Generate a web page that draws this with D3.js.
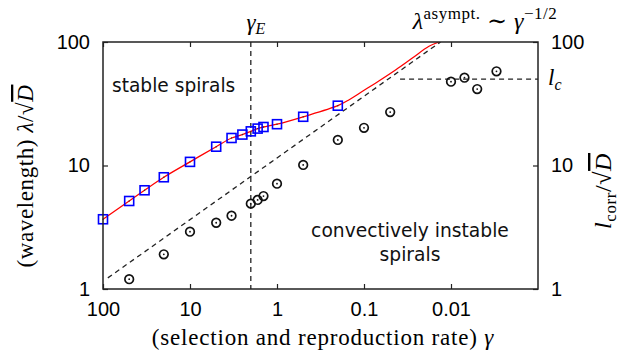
<!DOCTYPE html>
<html>
<head>
<meta charset="utf-8">
<script src="https://cdn.jsdelivr.net/npm/d3@7"></script>
<style>
  body { margin: 0; background: #fff; }
  .tick text { font-family: "Liberation Sans", Arial, sans-serif; font-size: 20px; fill: #000; }
  .serif { font-family: "Liberation Serif", "DejaVu Serif", serif; fill: #000; }
  .sans { font-family: "DejaVu Sans", sans-serif; fill: #111; }
</style>
</head>
<body>
<svg id="chart" width="628" height="356"></svg>
<script>
// blue squares: wavelength of stable spirals
const sqGamma = [100, 50, 33.3, 20, 10, 5, 3.33, 2.5, 2, 1.67, 1.43, 1, 0.5, 0.2];
const sqLambda = [3.67, 5.16, 6.3, 8.03, 10.7, 14.2, 16.7, 17.8, 18.9, 19.9, 20.5, 21.6, 24.8, 30.5];

// red fit curve
const fitGamma = [100, 50, 33.3, 20, 10, 5, 3.33, 2.5, 2, 1.67, 1.43, 1, 0.5, 0.2, 0.148, 0.104, 0.0669, 0.043, 0.0278, 0.0179, 0.0137];
const fitLambda = [3.67, 5.16, 6.3, 8.03, 10.7, 14.2, 16.7, 17.8, 18.9, 19.9, 20.5, 21.6, 24.8, 30.5, 34.1, 39.9, 48.6, 59.7, 74.2, 92.3, 100];

// black circles: correlation length
const cGamma = [50, 20, 10, 5, 3.33, 2, 1.67, 1.43, 1, 0.5, 0.2, 0.1, 0.05, 0.01, 0.007, 0.005, 0.003];
const cLambda = [1.2, 1.91, 2.91, 3.44, 3.92, 4.91, 5.26, 5.66, 7.12, 10.1, 16.1, 20.2, 27.1, 47.7, 51.4, 41.6, 57.9];

// asymptote lambda ~ gamma^-1/2 and l_c plateau
const asymGamma = [88, 0.0132];
const asymLambda = [1.23, 100];
const lcGamma = [0.0385, 0.001];
const lcLambda = [50, 50];
const gammaE = 2;

const xTicks = [100, 10, 1, 0.1, 0.01];
const xTickLabels = ["100", "10", "1", "0.1", "0.01"];
const yTicks = [1, 10, 100];
const yTickLabels = ["1", "10", "100"];

const svg = d3.select("#chart");
const mLeft = 103, mRight = 538, mTop = 42, mBottom = 289;

const x = d3.scaleLog().domain([100, 0.001]).range([mLeft, mRight]);
const y = d3.scaleLog().domain([1, 100]).range([mBottom, mTop]);

svg.append("clipPath").attr("id", "clip")
  .append("rect").attr("x", mLeft).attr("y", mTop)
  .attr("width", mRight - mLeft).attr("height", mBottom - mTop);

const plot = svg.append("g").attr("clip-path", "url(#clip)");

// dashed guides
const dash = "5,4";
plot.append("line")
  .attr("x1", x(gammaE)).attr("x2", x(gammaE))
  .attr("y1", mTop).attr("y2", mBottom)
  .attr("stroke", "#222").attr("stroke-width", 1.3).attr("stroke-dasharray", dash);

const line = d3.line().x(d => x(d[0])).y(d => y(d[1]));

plot.append("path")
  .datum(d3.zip(asymGamma, asymLambda))
  .attr("d", line)
  .attr("fill", "none").attr("stroke", "#222").attr("stroke-width", 1.3).attr("stroke-dasharray", dash);

plot.append("path")
  .datum(d3.zip(lcGamma, lcLambda))
  .attr("d", line)
  .attr("fill", "none").attr("stroke", "#222").attr("stroke-width", 1.3).attr("stroke-dasharray", dash);

// red fit
plot.append("path")
  .datum(d3.zip(fitGamma, fitLambda))
  .attr("d", d3.line().x(d => x(d[0])).y(d => y(d[1])).curve(d3.curveCatmullRom.alpha(0.5)))
  .attr("fill", "none").attr("stroke", "#ff0000").attr("stroke-width", 1.3);

// circles
const circ = svg.append("g").selectAll("g")
  .data(d3.zip(cGamma, cLambda))
  .enter().append("g")
  .attr("transform", d => "translate(" + x(d[0]) + "," + y(d[1]) + ")");
circ.append("circle").attr("r", 4.3).attr("fill", "none").attr("stroke", "#111").attr("stroke-width", 1.7);
circ.append("circle").attr("r", 0.9).attr("fill", "#111");

// squares
const sq = svg.append("g").selectAll("g")
  .data(d3.zip(sqGamma, sqLambda))
  .enter().append("g")
  .attr("transform", d => "translate(" + x(d[0]) + "," + y(d[1]) + ")");
sq.append("rect").attr("x", -4.5).attr("y", -4.5).attr("width", 9).attr("height", 9)
  .attr("fill", "none").attr("stroke", "#0000ff").attr("stroke-width", 1.6);
sq.append("circle").attr("r", 0.7).attr("fill", "#333");

// axes
function styleAxis(g) {
  g.select(".domain").remove();
  g.selectAll(".tick line").attr("stroke", "#222").attr("stroke-width", 1.2);
}
svg.append("g").attr("transform", "translate(0," + mBottom + ")")
  .call(d3.axisBottom(x).tickValues(xTicks).tickSize(-5).tickPadding(13)
    .tickFormat((d, i) => xTickLabels[i]))
  .call(styleAxis);
svg.append("g").attr("transform", "translate(0," + mTop + ")")
  .call(d3.axisTop(x).tickValues(xTicks).tickSize(-5).tickFormat(""))
  .call(styleAxis);
svg.append("g").attr("transform", "translate(" + mLeft + ",0)")
  .call(d3.axisLeft(y).tickValues(yTicks).tickSize(-5).tickPadding(13)
    .tickFormat((d, i) => yTickLabels[i]))
  .call(styleAxis);
svg.append("g").attr("transform", "translate(" + mRight + ",0)")
  .call(d3.axisRight(y).tickValues(yTicks).tickSize(-5).tickPadding(13)
    .tickFormat((d, i) => yTickLabels[i]))
  .call(styleAxis);

// frame
svg.append("rect").attr("x", mLeft).attr("y", mTop)
  .attr("width", mRight - mLeft).attr("height", mBottom - mTop)
  .attr("fill", "none").attr("stroke", "#222").attr("stroke-width", 1.5);

// annotations
const gE = svg.append("text").attr("class", "serif").attr("x", x(gammaE) + 5).attr("y", 30)
  .attr("text-anchor", "middle").attr("font-size", 23);
gE.append("tspan").attr("font-style", "italic").text("γ");
gE.append("tspan").attr("font-style", "italic").attr("font-size", 16).attr("dy", 4).text("E");

const asym = svg.append("text").attr("class", "serif").attr("x", 485).attr("y", 29)
  .attr("text-anchor", "middle").attr("font-size", 24).attr("letter-spacing", 0.5);
asym.append("tspan").attr("font-style", "italic").text("λ");
asym.append("tspan").attr("font-size", 17).attr("dy", -10).text("asympt.");
asym.append("tspan").attr("dy", 10).text(" ∼ ");
asym.append("tspan").attr("font-style", "italic").text("γ");
asym.append("tspan").attr("font-size", 17).attr("dy", -10).text("−1/2");

const lc = svg.append("text").attr("class", "serif").attr("x", 548).attr("y", y(50) + 6)
  .attr("font-size", 23);
lc.append("tspan").attr("font-style", "italic").text("l");
lc.append("tspan").attr("font-style", "italic").attr("font-size", 16).attr("dy", 5).text("c");

svg.append("text").attr("class", "sans").attr("x", 112).attr("y", 92)
  .attr("font-size", 18.6).text("stable spirals");
svg.append("text").attr("class", "sans").attr("x", 410).attr("y", 237)
  .attr("text-anchor", "middle").attr("font-size", 18.7).text("convectively instable");
svg.append("text").attr("class", "sans").attr("x", 410).attr("y", 261)
  .attr("text-anchor", "middle").attr("font-size", 18.7).text("spirals");

// axis titles
const xl = svg.append("text").attr("class", "serif").attr("x", 323).attr("y", 345)
  .attr("text-anchor", "middle").attr("font-size", 23).attr("letter-spacing", 0.8);
xl.append("tspan").text("(selection and reproduction rate) ");
xl.append("tspan").attr("font-style", "italic").text("γ");

const yl = svg.append("text").attr("class", "serif")
  .attr("transform", "translate(33,176) rotate(-90)")
  .attr("text-anchor", "middle").attr("font-size", 23).attr("letter-spacing", 0.6);
yl.append("tspan").text("(wavelength) ");
yl.append("tspan").attr("font-style", "italic").text("λ");
yl.append("tspan").text("/√");
yl.append("tspan").attr("font-style", "italic").attr("text-decoration", "overline").text("D");

const yr = svg.append("text").attr("class", "serif")
  .attr("transform", "translate(611,191) rotate(-90)")
  .attr("text-anchor", "middle").attr("font-size", 24).attr("letter-spacing", 0.6);
yr.append("tspan").attr("font-style", "italic").text("l");
yr.append("tspan").attr("font-size", 17).attr("dy", 5).text("corr");
yr.append("tspan").attr("dy", -5).text("/√");
yr.append("tspan").attr("font-style", "italic").attr("text-decoration", "overline").text("D");
</script>
</body>
</html>
